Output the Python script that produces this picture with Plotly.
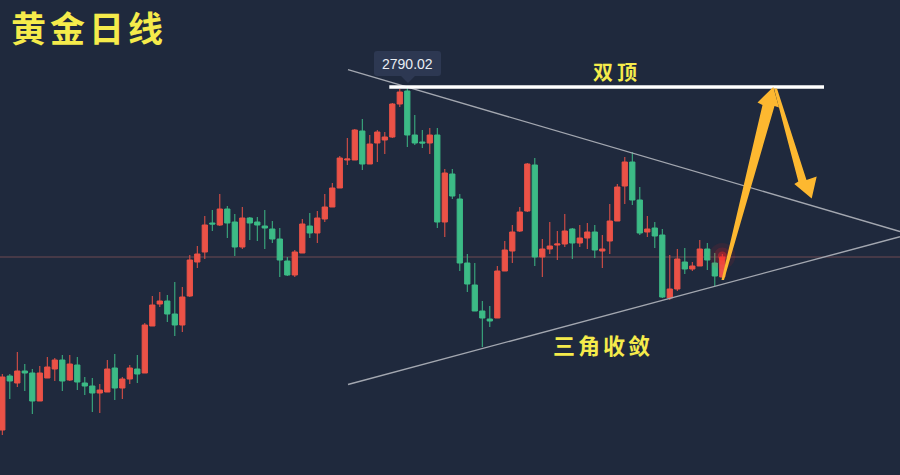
import plotly.graph_objects as go

# ---------------- data (daily gold candles) ----------------
idx = list(range(97))
opens = [2447, 2501, 2494, 2506, 2504, 2476, 2499, 2508, 2517, 2497,
         2512, 2494, 2491, 2484, 2485, 2509, 2489, 2498, 2508, 2504,
         2551, 2573, 2576, 2563, 2552, 2581, 2615, 2625, 2654, 2652,
         2668, 2655, 2630, 2659, 2655, 2651, 2648, 2638, 2616, 2602,
         2624, 2651, 2644, 2658, 2670, 2689, 2717, 2717, 2746, 2713,
         2734, 2737, 2740, 2773, 2786, 2742, 2735, 2734, 2742, 2655,
         2703, 2678, 2614, 2592, 2566, 2558, 2559, 2606, 2626, 2646,
         2666, 2712, 2620, 2628, 2632, 2633, 2648, 2634, 2639, 2645,
         2626, 2636, 2656, 2691, 2715, 2677, 2645, 2649, 2642, 2579,
         2588, 2615, 2608, 2611, 2628, 2614, 2600]
highs = [2503, 2503, 2525, 2513, 2508, 2511, 2520, 2519, 2522, 2522,
         2520, 2500, 2499, 2493, 2517, 2523, 2500, 2512, 2522, 2554,
         2581, 2585, 2582, 2595, 2590, 2622, 2631, 2661, 2667, 2683,
         2671, 2663, 2670, 2660, 2660, 2667, 2656, 2649, 2620, 2627,
         2658, 2664, 2666, 2683, 2694, 2721, 2739, 2748, 2758, 2742,
         2747, 2745, 2774, 2788, 2790.02, 2762, 2747, 2749, 2749, 2708,
         2708, 2683, 2623, 2614, 2576, 2571, 2611, 2636, 2652, 2670,
         2714, 2719, 2638, 2655, 2646, 2663, 2649, 2652, 2654, 2652,
         2642, 2673, 2693, 2720, 2725, 2690, 2661, 2655, 2648, 2622,
         2628, 2629, 2615, 2637, 2634, 2624, 2623]
lows = [2442, 2478, 2490, 2486, 2463, 2476, 2499, 2496, 2486, 2496,
        2487, 2482, 2465, 2464, 2485, 2477, 2478, 2493, 2494, 2504,
        2551, 2570, 2555, 2541, 2545, 2580, 2609, 2618, 2646, 2651,
        2639, 2621, 2628, 2637, 2636, 2628, 2634, 2600, 2601, 2600,
        2624, 2639, 2634, 2655, 2670, 2689, 2712, 2717, 2707, 2713,
        2715, 2723, 2739, 2770, 2730, 2732, 2729, 2723, 2649, 2640,
        2678, 2606, 2585, 2566, 2530, 2550, 2559, 2606, 2614, 2645,
        2665, 2611, 2600, 2623, 2617, 2630, 2618, 2630, 2628, 2619,
        2609, 2623, 2656, 2673, 2672, 2642, 2640, 2629, 2579, 2577,
        2586, 2603, 2606, 2611, 2607, 2591, 2599]
closes = [2500, 2496, 2506, 2504, 2476, 2504, 2510, 2517, 2496, 2513,
          2495, 2491, 2484, 2487, 2508, 2489, 2498, 2509, 2503, 2552,
          2572, 2576, 2563, 2552, 2580, 2617, 2623, 2652, 2653, 2668,
          2654, 2630, 2659, 2654, 2652, 2649, 2638, 2617, 2602, 2625,
          2653, 2644, 2659, 2670, 2689, 2719, 2718, 2747, 2713, 2733,
          2745, 2740, 2773, 2785, 2742, 2734, 2734, 2742, 2655, 2704,
          2681, 2614, 2593, 2566, 2559, 2556, 2606, 2627, 2645, 2665,
          2713, 2620, 2628, 2631, 2633, 2646, 2634, 2639, 2645, 2627,
          2628, 2656, 2690, 2715, 2677, 2644, 2648, 2641, 2580, 2588,
          2618, 2608, 2611, 2628, 2617, 2601, 2620]

peak_label = "2790.02"
peak_price = 2790.02
last_price = 2620
title_text = "黄金日线"
double_top_text = "双顶"
triangle_text = "三角收敛"

# trend lines (candle index, price)
upper_line = [(46.09, 2807.3), (119.69, 2645.5)]
lower_line = [(46.09, 2492.5), (119.69, 2640.3)]
top_line_x = (51.6, 109.56)

# ---------------- style ----------------
BG = "#1f293d"
RED = "#eb5247"
GREEN = "#3cbb86"
YELLOW = "#f5eb4b"
ORANGE = "#fdb830"
W, H = 900, 475


def pp(x, y):
    """pixel -> paper coordinate string"""
    return f"{x / W:.5f},{1 - y / H:.5f}"


def poly(points):
    return "M " + " L ".join(pp(x, y) for x, y in points) + " Z"


fig = go.Figure()

fig.add_trace(go.Candlestick(
    x=idx, open=opens, high=highs, low=lows, close=closes,
    increasing=dict(line=dict(color=RED, width=1), fillcolor=RED),
    decreasing=dict(line=dict(color=GREEN, width=1), fillcolor=GREEN),
    whiskerwidth=0, hoverinfo="skip", showlegend=False,
))

# glow around the last candle
fig.add_trace(go.Scatter(
    x=[idx[-1]] * 3, y=[highs[-1] - 2] * 3, mode="markers",
    marker=dict(size=[26, 17, 9],
                color=["rgba(255,30,30,0.13)", "rgba(255,30,30,0.22)", "rgba(255,40,40,0.55)"],
                line=dict(width=0)),
    hoverinfo="skip", showlegend=False,
))

shapes = []
# last price line
shapes.append(dict(type="line", xref="paper", yref="y", x0=0, x1=1,
                   y0=last_price, y1=last_price,
                   line=dict(color="#6f4a52", width=1), layer="below"))
# triangle trend lines
for (x0, y0), (x1, y1) in (upper_line, lower_line):
    shapes.append(dict(type="line", xref="x", yref="y", x0=x0, y0=y0, x1=x1, y1=y1,
                       line=dict(color="#a3a7b0", width=1.4)))
# double top white line
shapes.append(dict(type="line", xref="x", yref="y", x0=top_line_x[0], x1=top_line_x[1],
                   y0=peak_price, y1=peak_price, line=dict(color="#ffffff", width=3.5)))

# tooltip bubble
r = 3
bx0, by0, bx1, by1 = 374, 51, 441, 76
tip = (408, 83)
path = ("M " + pp(bx0 + r, by0) + " L " + pp(bx1 - r, by0) + " Q " + pp(bx1, by0) + " " + pp(bx1, by0 + r)
        + " L " + pp(bx1, by1 - r) + " Q " + pp(bx1, by1) + " " + pp(bx1 - r, by1)
        + " L " + pp(tip[0] + 7, by1) + " L " + pp(*tip) + " L " + pp(tip[0] - 7, by1)
        + " L " + pp(bx0 + r, by1) + " Q " + pp(bx0, by1) + " " + pp(bx0, by1 - r)
        + " L " + pp(bx0, by0 + r) + " Q " + pp(bx0, by0) + " " + pp(bx0 + r, by0) + " Z")
shapes.append(dict(type="path", xref="paper", yref="paper", path=path,
                   fillcolor="#2d3852", line=dict(width=0)))

# orange arrows
arrow_up = [(721.5, 280), (762.5, 105), (757.5, 102.5), (773.3, 87),
            (779, 107.5), (774.5, 106), (724, 280)]
arrow_down = [(774, 88.5), (777, 88.5), (806.5, 180), (816.7, 176.5),
              (811.7, 198.5), (794.3, 184), (798.3, 181.5)]
for pts in (arrow_up, arrow_down):
    shapes.append(dict(type="path", xref="paper", yref="paper", path=poly(pts),
                       fillcolor=ORANGE, line=dict(width=0)))

annotations = [
    dict(text=f'<span style="letter-spacing:4px">{title_text}</span>', xref="paper", yref="paper",
         x=89 / W, y=1 - 26 / H, xanchor="center", yanchor="middle", showarrow=False,
         font=dict(family="Noto Sans CJK SC", size=35, color=YELLOW, weight="bold")),
    dict(text=f'<span style="letter-spacing:4px">{double_top_text}</span>', xref="paper", yref="paper",
         x=617 / W, y=1 - 71 / H, xanchor="center", yanchor="middle", showarrow=False,
         font=dict(family="Noto Sans CJK SC", size=20, color=YELLOW, weight="bold")),
    dict(text=f'<span style="letter-spacing:3px">{triangle_text}</span>', xref="paper", yref="paper",
         x=603 / W, y=1 - 344 / H, xanchor="center", yanchor="middle", showarrow=False,
         font=dict(family="Noto Sans CJK SC", size=22, color=YELLOW, weight="bold")),
    dict(text=peak_label, xref="paper", yref="paper",
         x=407.5 / W, y=1 - 63.5 / H, xanchor="center", yanchor="middle", showarrow=False,
         font=dict(family="Liberation Sans, Arial", size=14, color="#e9edf3")),
]

fig.update_layout(
    width=W, height=H,
    margin=dict(l=0, r=0, t=0, b=0),
    paper_bgcolor=BG, plot_bgcolor=BG,
    showlegend=False,
    boxgap=0.3, boxgroupgap=0,
    xaxis=dict(range=[-2.3 / 7.5, (W - 2.3) / 7.5], visible=False, rangeslider=dict(visible=False),
               showgrid=False, zeroline=False),
    yaxis=dict(range=[2402, 2877], visible=False, showgrid=False, zeroline=False),
    shapes=shapes,
    annotations=annotations,
    hovermode=False,
)

fig.write_html("out.html", config=dict(displayModeBar=False),
               post_script="document.body.style.margin='0';document.body.style.background='" + BG + "';")
